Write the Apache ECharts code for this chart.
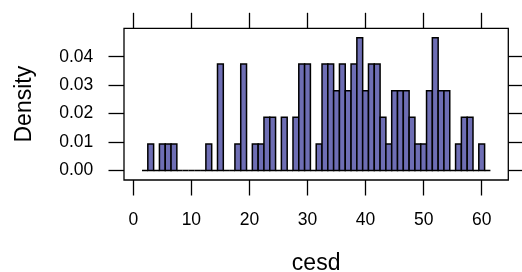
<!DOCTYPE html>
<html>
<head>
    <meta charset="utf-8"/>
    <script src="https://cdn.jsdelivr.net/npm/echarts@6/dist/echarts.min.js"></script>
    <style>
        html, body { margin: 0; padding: 0; background: #fff; }
    </style>
</head>
<body>
<div id="main" style="width: 522px;height:272px;"></div>
<script type="text/javascript">
    // histogram of cesd, one bin per integer value
    var binMids = [2, 3, 4, 5, 6, 7, 8, 9, 10, 11, 12, 13, 14, 15, 16, 17, 18, 19, 20, 21,
        22, 23, 24, 25, 26, 27, 28, 29, 30, 31, 32, 33, 34, 35, 36, 37, 38, 39, 40, 41,
        42, 43, 44, 45, 46, 47, 48, 49, 50, 51, 52, 53, 54, 55, 56, 57, 58, 59, 60, 61];
    var density = [0, 0.0093, 0, 0.0093, 0.0093, 0.0093, 0, 0, 0, 0, 0, 0.0093, 0, 0.0374, 0, 0, 0.0093, 0.0374, 0, 0.0093,
        0.0093, 0.0187, 0.0187, 0, 0.0187, 0, 0.0187, 0.0374, 0.0374, 0, 0.0093, 0.0374, 0.0374, 0.028, 0.0374, 0.028, 0.0374, 0.0467, 0.028, 0.0374,
        0.0374, 0.0187, 0.0093, 0.028, 0.028, 0.028, 0.0187, 0.0093, 0.0093, 0.028, 0.0467, 0.028, 0.028, 0, 0.0093, 0.0187, 0.0187, 0, 0.0093, 0];
    var binWidth = 1;
    var xTicks = [0, 10, 20, 30, 40, 50, 60];
    var yTicks = [0, 0.01, 0.02, 0.03, 0.04];

    var myChart = echarts.init(document.getElementById('main'));

    var font = 'Liberation Sans, Arial, sans-serif';
    var noLine = {show: false, onZero: false};
    var xTick = {show: true, inside: false, length: 15.5, customValues: xTicks, lineStyle: {color: '#000', width: 1.3}};
    var yTick = {show: true, inside: false, length: 15.5, customValues: yTicks, lineStyle: {color: '#000', width: 1.3}};

    var data = [];
    for (var i = 0; i < binMids.length; i++) {
        data.push([binMids[i], density[i]]);
    }

    var option = {
        animation: false,
        grid: {
            left: 124, right: 13.7, top: 28.3, bottom: 92,
            containLabel: false, outerBoundsMode: 'none',
            show: true, borderColor: '#000', borderWidth: 1.3, backgroundColor: 'transparent'
        },
        xAxis: [{
            type: 'value', min: -1.602, max: 64.58,
            name: 'cesd', nameLocation: 'middle', nameGap: 72,
            nameTextStyle: {fontFamily: font, fontSize: 23, color: '#000'},
            axisLine: noLine,
            splitLine: {show: false},
            axisTick: xTick,
            axisLabel: {customValues: xTicks, margin: 31, fontFamily: font, fontSize: 17.5, color: '#000'}
        }, {
            type: 'value', position: 'top', min: -1.602, max: 64.58,
            axisLine: noLine,
            splitLine: {show: false},
            axisTick: xTick,
            axisLabel: {show: false}
        }],
        yAxis: [{
            type: 'value', min: -0.00334, max: 0.04998,
            name: 'Density', nameLocation: 'middle', nameGap: 88, nameRotate: 90,
            nameTextStyle: {fontFamily: font, fontSize: 23, color: '#000'},
            axisLine: noLine,
            splitLine: {show: false},
            axisTick: yTick,
            axisLabel: {
                customValues: yTicks, margin: 30.7, fontFamily: font, fontSize: 17.5, color: '#000',
                formatter: function (v) { return v.toFixed(2); }
            }
        }, {
            type: 'value', position: 'right', min: -0.00334, max: 0.04998,
            axisLine: noLine,
            splitLine: {show: false},
            axisTick: yTick,
            axisLabel: {show: false}
        }],
        series: [{
            type: 'custom',
            xAxisIndex: 0,
            yAxisIndex: 0,
            data: data,
            renderItem: function (params, api) {
                var p0 = api.coord([api.value(0) - binWidth / 2, api.value(1)]);
                var p1 = api.coord([api.value(0) + binWidth / 2, 0]);
                return {
                    type: 'rect',
                    shape: {x: p0[0], y: p0[1], width: p1[0] - p0[0], height: p1[1] - p0[1]},
                    style: {fill: '#6e6eb4', stroke: '#000', lineWidth: 1.5}
                };
            }
        }]
    };

    myChart.setOption(option);
</script>
</body>
</html>
